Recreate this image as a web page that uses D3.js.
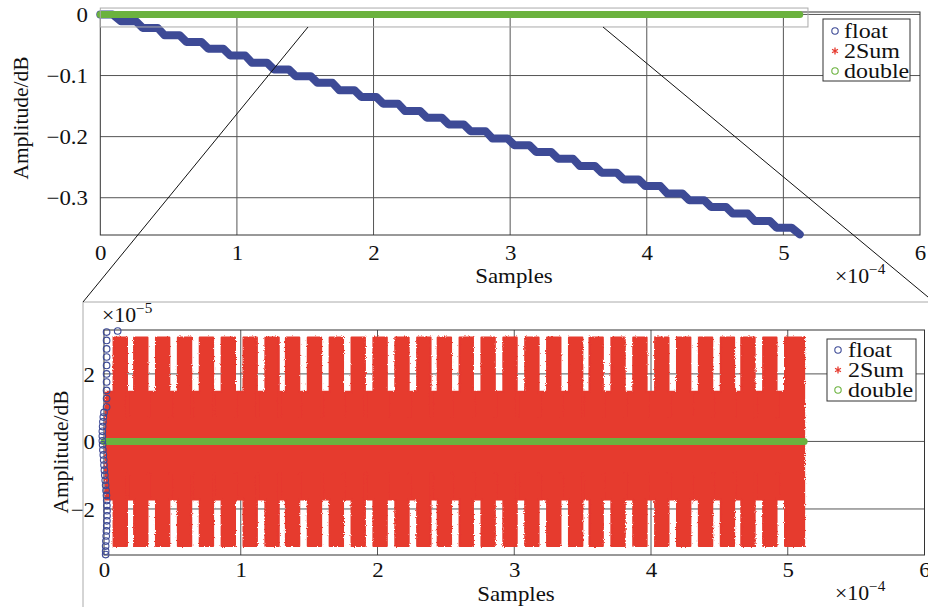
<!DOCTYPE html>
<html>
<head>
<meta charset="utf-8">
<script src="https://cdn.jsdelivr.net/npm/d3@7"></script>
<style>
  body { margin: 0; background: #fff; }
  svg { display: block; }
  text { font-family: "Liberation Serif", "DejaVu Serif", serif; fill: #111; }
</style>
</head>
<body>
<svg id="chart" width="928" height="607"></svg>
<script>
// Sample axis is shown in units of 1e-4, zoomed amplitudes in units of 1e-5.
const xTicks = [0, 1, 2, 3, 4, 5, 6];
const topYTicks = [0, -0.1, -0.2, -0.3];
const bottomYTicks = [2, 0, -2];
const seriesNames = ["float", "2Sum", "double"];

// float accumulation error (upper panel): a staircase of flat runs
const floatHead = [[0, 0], [0.09, 0]];
const floatFlatStart = [0.15, 0.31, 0.47, 0.63, 0.79, 0.95, 1.11, 1.27, 1.43, 1.59, 1.75, 1.91, 2.07, 2.23, 2.39, 2.55,
  2.71, 2.87, 3.03, 3.19, 3.35, 3.51, 3.67, 3.83, 3.99, 4.15, 4.31, 4.47, 4.63, 4.79, 4.95];
const floatFlatEnd = [0.26, 0.42, 0.58, 0.74, 0.90, 1.06, 1.22, 1.38, 1.54, 1.70, 1.86, 2.02, 2.18, 2.34, 2.50, 2.66,
  2.82, 2.98, 3.14, 3.30, 3.46, 3.62, 3.78, 3.94, 4.10, 4.26, 4.42, 4.58, 4.74, 4.90, 5.06];
const floatFlatLevel = [-0.011, -0.022, -0.034, -0.045, -0.056, -0.067, -0.079, -0.090, -0.101, -0.112, -0.124, -0.135,
  -0.146, -0.158, -0.169, -0.180, -0.191, -0.203, -0.214, -0.225, -0.236, -0.248, -0.259, -0.270, -0.281, -0.293,
  -0.304, -0.315, -0.326, -0.338, -0.349];
const floatTail = [5.12, -0.36];

// double: no error over the whole run
const doubleX = [0, 5.12];
const doubleY = [0, 0];

// 2Sum residual (lower panel): bursts that repeat along the run
const sumColumnStart = [0.07, 0.22, 0.38, 0.54, 0.70, 0.86, 1.02, 1.18, 1.33, 1.49, 1.65, 1.81, 1.97, 2.13, 2.29, 2.44,
  2.60, 2.76, 2.92, 3.08, 3.24, 3.40, 3.55, 3.71, 3.87, 4.03, 4.19, 4.35, 4.51, 4.66, 4.82, 4.98];
const sumColumnWidth = 0.098;
const sumNotchWidth = 0.012;
const sumPeak = [3.08, -3.10];      // upper, lower
const sumShoulder = [1.47, -1.72];
const sumNotch = [0.72, -0.95];
const sumFirstX = 0.012;
const sumLastX = 5.12;

// float (lower panel): first samples, before it leaves the visible range
const floatZoomX = [0.10, 0.019, 0.019, 0.019, 0.019, 0.019, 0.019, 0.019, 0.019, 0.019, 0.019,
  0.0, -0.005, -0.008, -0.01, -0.012, -0.012, -0.012,
  -0.01, -0.008, -0.005, -0.002, 0, 0.003, 0.006, 0.009, 0.012, 0.015, 0.018, 0.02, 0.021, 0.022, 0.022,
  0.021, 0.02, 0.018, 0.016, 0.014, 0.012, 0.012, 0.012];
const floatZoomY = [3.27, 3.24, 2.99, 2.74, 2.50, 2.25, 2.00, 1.76, 1.51, 1.27, 1.02,
  0.86, 0.72, 0.58, 0.44, 0.30, 0.16, 0.02,
  -0.10, -0.25, -0.40, -0.55, -0.70, -0.85, -1.00, -1.15, -1.30, -1.45, -1.60, -1.75, -1.90, -2.05, -2.20,
  -2.35, -2.50, -2.65, -2.80, -2.95, -3.10, -3.25, -3.35];

// region of the upper panel that the lower panel enlarges
const zoomBoxX = [0, 5.18];
const zoomBoxY = [0.0105, -0.0205];

const C = { float: "#3d4a96", sum: "#e63a2f", dbl: "#6bb23e", grid: "#555", frame: "#333" };
const fmt = d => (d < 0 ? "\u2212" + Math.abs(d) : String(d));
const svg = d3.select("#chart");

const defs = svg.append("defs");
const fz = defs.append("filter").attr("id", "fuzz")
  .attr("x", "-2%").attr("y", "-5%").attr("width", "104%").attr("height", "110%");
fz.append("feTurbulence").attr("type", "fractalNoise").attr("baseFrequency", 0.9)
  .attr("numOctaves", 1).attr("seed", 4).attr("result", "n");
fz.append("feDisplacementMap").attr("in", "SourceGraphic").attr("in2", "n")
  .attr("scale", 3).attr("xChannelSelector", "R").attr("yChannelSelector", "G");

function stretch(sel, sx = 1.09) {
  sel.each(function () {
    const t = d3.select(this);
    const x = +t.attr("x") || 0, y = +t.attr("y") || 0;
    t.attr("transform", `translate(${x},${y}) scale(${sx},1)`).attr("x", 0).attr("y", 0);
  });
}

function panel(opts) {
  const { x, y, yTicks, xBase, yRight } = opts;
  const g = svg.append("g");
  const [x0, x1] = x.range();
  const [yb, yt] = y.range();
  // grid
  g.append("g").selectAll("line").data(xTicks.slice(1, -1)).join("line")
    .attr("x1", d => x(d)).attr("x2", d => x(d)).attr("y1", yt).attr("y2", yb)
    .attr("stroke", C.grid).attr("stroke-width", 1);
  g.append("g").selectAll("line").data(yTicks).join("line")
    .attr("x1", x0).attr("x2", x1).attr("y1", d => y(d)).attr("y2", d => y(d))
    .attr("stroke", C.grid).attr("stroke-width", 1);
  // frame
  g.append("rect").attr("x", x0).attr("y", yt).attr("width", x1 - x0).attr("height", yb - yt)
    .attr("fill", "none").attr("stroke", C.frame).attr("stroke-width", 1);
  // axes
  const ax = g.append("g").attr("transform", `translate(0,${xBase})`)
    .call(d3.axisBottom(x).tickValues(xTicks).tickSize(0).tickFormat(fmt));
  ax.select(".domain").remove();
  ax.selectAll("text").attr("y", 0).attr("dy", 0).attr("font-size", 21)
    .attr("font-family", "Liberation Serif, serif").attr("fill", "#111");
  stretch(ax.selectAll("text"));
  const ay = g.append("g").attr("transform", `translate(${yRight},0)`)
    .call(d3.axisLeft(y).tickValues(yTicks).tickSize(0).tickFormat(fmt));
  ay.select(".domain").remove();
  ay.selectAll("text").attr("x", 0).attr("dy", "0.34em").attr("font-size", 21)
    .attr("font-family", "Liberation Serif, serif").attr("fill", "#111");
  stretch(ay.selectAll("text"));
  return g;
}

function titles(g, cx, samplesBase, ylx, yly, expX, expBase, expTxt) {
  const s = g.append("text").attr("x", cx).attr("y", samplesBase).attr("text-anchor", "middle")
    .attr("font-size", 21).text("Samples");
  stretch(s);
  g.append("text").attr("transform", `translate(${ylx},${yly}) rotate(-90)`)
    .attr("text-anchor", "middle").attr("font-size", 21.5).text("Amplitude/dB");
  const e = g.append("text").attr("x", expX).attr("y", expBase).attr("font-size", 20);
  e.append("tspan").text("\u00d710");
  e.append("tspan").attr("dy", -9).attr("font-size", 14).text(expTxt);
  stretch(e);
}

function legend(g, bx, by, bw, bh, mx, tx, rows) {
  const lg = g.append("g");
  lg.append("rect").attr("x", bx).attr("y", by).attr("width", bw).attr("height", bh)
    .attr("fill", "#fff").attr("stroke", C.frame).attr("stroke-width", 1);
  const cols = [C.float, C.sum, C.dbl];
  seriesNames.forEach((name, i) => {
    const cy = rows[i];
    if (name === "2Sum") {
      lg.append("path").attr("transform", `translate(${mx},${cy})`)
        .attr("d", d3.symbol(d3.symbolAsterisk, 32)()).attr("fill", "none")
        .attr("stroke", cols[i]).attr("stroke-width", 1.3);
    } else {
      lg.append("circle").attr("cx", mx).attr("cy", cy).attr("r", 3.2)
        .attr("fill", "none").attr("stroke", cols[i]).attr("stroke-width", 1.1);
    }
    const t = lg.append("text").attr("x", tx).attr("y", cy).attr("dy", "0.33em")
      .attr("font-size", 22).text(name);
    stretch(t);
  });
}

// ---------- upper panel ----------
const xT = d3.scaleLinear([0, 6], [100.3, 920]);
const yT = d3.scaleLinear([-0.361, 0.004], [235, 12]);
const gTop = panel({ x: xT, y: yT, yTicks: topYTicks, xBase: 260, yRight: 88 });

const floatPts = [...floatHead];
floatFlatStart.forEach((s, i) => {
  floatPts.push([s, floatFlatLevel[i]], [floatFlatEnd[i], floatFlatLevel[i]]);
});
floatPts.push(floatTail);
gTop.append("path").datum(floatPts)
  .attr("d", d3.line().x(d => xT(d[0])).y(d => yT(d[1])))
  .attr("fill", "none").attr("stroke", C.float).attr("stroke-width", 8)
  .attr("stroke-linejoin", "round").attr("stroke-linecap", "round");
gTop.append("path").datum(doubleX.map((v, i) => [v, doubleY[i]]))
  .attr("d", d3.line().x(d => xT(d[0])).y(d => yT(d[1])))
  .attr("fill", "none").attr("stroke", C.dbl).attr("stroke-width", 7).attr("stroke-linecap", "round");

legend(gTop, 823, 19, 87, 62, 835, 844, [31, 51, 71]);
titles(gTop, 514, 283, 28, 118, 835, 283, "\u22124");

// enlarged region outline
gTop.append("rect").attr("x", xT(zoomBoxX[0])).attr("y", yT(zoomBoxY[0]))
  .attr("width", xT(zoomBoxX[1]) - xT(zoomBoxX[0])).attr("height", yT(zoomBoxY[1]) - yT(zoomBoxY[0]))
  .attr("fill", "none").attr("stroke", "#aaa").attr("stroke-width", 1);

// ---------- inset frame ----------
const inset = svg.append("g");
inset.append("line").attr("x1", 83).attr("y1", 302).attr("x2", 83).attr("y2", 607).attr("stroke", "#aaa");
inset.append("line").attr("x1", 83).attr("y1", 302).attr("x2", 928).attr("y2", 302).attr("stroke", "#aaa");

// ---------- lower panel ----------
const xB = d3.scaleLinear([0, 6], [104, 924.5]);
const yB = d3.scaleLinear([-3.363, 3.3], [555, 330]);
const gBot = panel({ x: xB, y: yB, yTicks: bottomYTicks, xBase: 577, yRight: 95 });

// 2Sum envelope built from the burst columns
const env = [{ x: sumFirstX, hi: sumShoulder[0], lo: sumShoulder[1] }];
sumColumnStart.forEach((c, k) => {
  const last = k === sumColumnStart.length - 1;
  env.push({ x: c, hi: sumShoulder[0], lo: sumShoulder[1] });
  env.push({ x: c, hi: sumPeak[0], lo: sumPeak[1] });
  if (last) {
    env.push({ x: sumLastX, hi: sumPeak[0], lo: sumPeak[1] });
  } else {
    const e = c + sumColumnWidth;
    env.push({ x: e, hi: sumPeak[0], lo: sumPeak[1] });
    env.push({ x: e, hi: sumNotch[0], lo: sumNotch[1] });
    env.push({ x: e + sumNotchWidth, hi: sumNotch[0], lo: sumNotch[1] });
    env.push({ x: e + sumNotchWidth, hi: sumShoulder[0], lo: sumShoulder[1] });
  }
});
gBot.append("path").datum(env)
  .attr("d", d3.area().x(d => xB(d.x)).y0(d => yB(d.lo)).y1(d => yB(d.hi)))
  .attr("fill", C.sum).attr("stroke", C.sum).attr("stroke-width", 2)
  .attr("stroke-linejoin", "round").attr("filter", "url(#fuzz)");

gBot.append("path").datum(doubleX.map((v, i) => [v, doubleY[i]]))
  .attr("d", d3.line().x(d => xB(d[0])).y(d => yB(d[1])))
  .attr("fill", "none").attr("stroke", C.dbl).attr("stroke-width", 7).attr("stroke-linecap", "round");

gBot.append("g").selectAll("circle").data(floatZoomX.map((v, i) => [v, floatZoomY[i]])).join("circle")
  .attr("cx", d => xB(d[0])).attr("cy", d => yB(d[1])).attr("r", 3.3)
  .attr("fill", "none").attr("stroke", C.float).attr("stroke-width", 1.1);

legend(gBot, 827, 339, 89, 62, 838, 848, [350, 370, 390]);
titles(gBot, 516, 601, 68, 452, 835, 600, "\u22124");
const e5 = gBot.append("text").attr("x", 102).attr("y", 322).attr("font-size", 20);
e5.append("tspan").text("\u00d710");
e5.append("tspan").attr("dy", -9).attr("font-size", 14).text("\u22125");
stretch(e5);

// ---------- connectors from the outlined region to the inset ----------
const links = [[308, 27, 83, 302], [603, 27, 934, 302]];
svg.append("g").selectAll("line").data(links).join("line")
  .attr("x1", d => d[0]).attr("y1", d => d[1]).attr("x2", d => d[2]).attr("y2", d => d[3])
  .attr("stroke", "#111").attr("stroke-width", 1);
</script>
</body>
</html>
